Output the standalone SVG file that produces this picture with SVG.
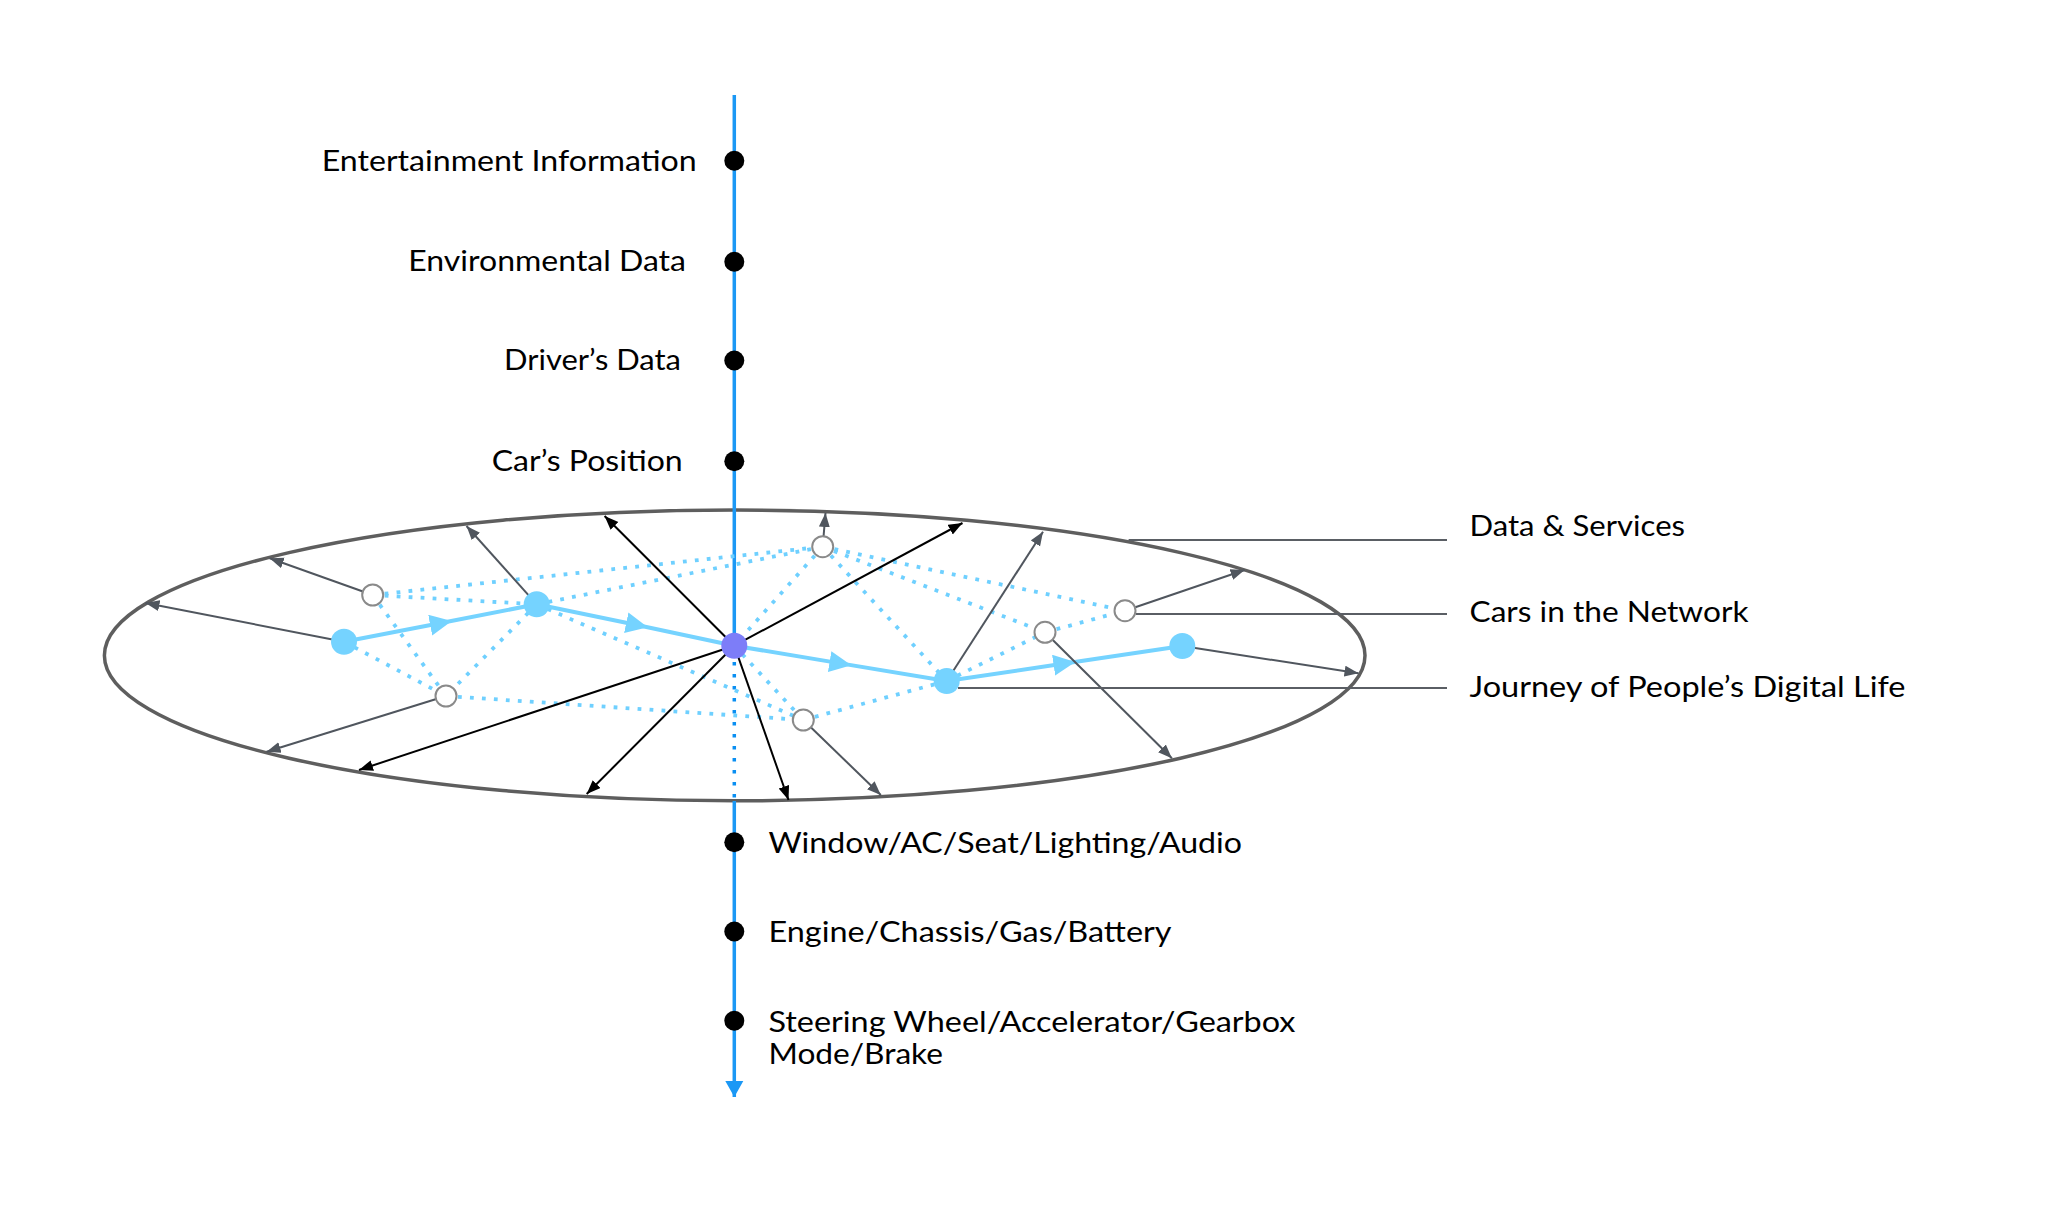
<svg xmlns="http://www.w3.org/2000/svg" width="2048" height="1218" viewBox="0 0 2048 1218">
<defs>
<style>
.lbl{font-family:Lato,"Noto Sans","Liberation Sans",sans-serif;font-size:28px;fill:#000}
.dot{stroke:#6fd0ff;stroke-width:3.8;stroke-dasharray:3.8 8.2;fill:none}
.blk{stroke:#000;stroke-width:2;fill:none;marker-end:url(#ab)}
.gry{stroke:#50565e;stroke-width:2;fill:none;marker-end:url(#ag)}
.lead{stroke:#5a5e64;stroke-width:2;fill:none}
.jr{stroke:#75d3ff;stroke-width:4;fill:none;marker-mid:url(#aj)}
.car{fill:#fff;stroke:#8a8a8a;stroke-width:2}
.jn{fill:#75d3ff}
.bd{fill:#000}
</style>
<marker id="ab" markerUnits="userSpaceOnUse" markerWidth="15" markerHeight="12" refX="14" refY="5.5" orient="auto"><path d="M0,0 L14,5.5 L0,11 z" fill="#000"/></marker>
<marker id="ag" markerUnits="userSpaceOnUse" markerWidth="15" markerHeight="12" refX="14" refY="5.5" orient="auto"><path d="M0,0 L14,5.5 L0,11 z" fill="#50565e"/></marker>
<marker id="aj" markerUnits="userSpaceOnUse" markerWidth="24" markerHeight="22" refX="11" refY="10.5" orient="auto"><path d="M0,0 L22,10.5 L0,21 z" fill="#75d3ff"/></marker>
<marker id="av" markerUnits="userSpaceOnUse" markerWidth="20" markerHeight="18" refX="9" refY="16" orient="0"><path d="M0,0 L18,0 L9,16 z" fill="#1b98f5"/></marker>
</defs>
<rect width="2048" height="1218" fill="#fff"/>

<g id="connectors">
<ellipse cx="734.7" cy="655.4" rx="630.3" ry="145.4" fill="none" stroke="#5e5e5e" stroke-width="3.5"/>
<line x1="734.3" y1="95" x2="734.3" y2="646" stroke="#1b98f5" stroke-width="3.5"/>
<line x1="734.3" y1="662" x2="734.3" y2="800" stroke="#0a8ff2" stroke-width="3.5" stroke-dasharray="3.5 8.5"/>
<line x1="734.3" y1="801" x2="734.3" y2="1097" stroke="#1b98f5" stroke-width="3.5" marker-end="url(#av)"/>

<g id="dotted">
<line class="dot" x1="372.7" y1="595" x2="822.7" y2="546.7"/>
<line class="dot" x1="372.7" y1="595" x2="536.7" y2="604.3"/>
<line class="dot" x1="536.7" y1="604.3" x2="822.7" y2="546.7"/>
<line class="dot" x1="372.7" y1="595" x2="446" y2="696"/>
<line class="dot" x1="344" y1="641.7" x2="446" y2="696"/>
<line class="dot" x1="536.7" y1="604.3" x2="446" y2="696"/>
<line class="dot" x1="536.7" y1="604.3" x2="803.3" y2="720"/>
<line class="dot" x1="446" y1="696" x2="803.3" y2="720"/>
<line class="dot" x1="822.7" y1="546.7" x2="734.3" y2="645.7"/>
<line class="dot" x1="822.7" y1="546.7" x2="946.7" y2="681"/>
<line class="dot" x1="822.7" y1="546.7" x2="1125" y2="610.7"/>
<line class="dot" x1="822.7" y1="546.7" x2="1045" y2="632.3"/>
<line class="dot" x1="946.7" y1="681" x2="1045" y2="632.3"/>
<line class="dot" x1="1045" y1="632.3" x2="1125" y2="610.7"/>
<line class="dot" x1="734.3" y1="645.7" x2="803.3" y2="720"/>
<line class="dot" x1="803.3" y1="720" x2="946.7" y2="681"/>
</g>

<g id="journey">
<path class="jr" d="M344,641.7 L441,623 L536.7,604.3"/>
<path class="jr" d="M536.7,604.3 L637,625 L734.3,645.7"/>
<path class="jr" d="M734.3,645.7 L840.5,663.4 L946.7,681"/>
<path class="jr" d="M946.7,681 L1064.5,663.5 L1182.3,646"/>
</g>

<g id="black-arrows">
<line class="blk" x1="734.3" y1="645.7" x2="604.6" y2="516"/>
<line class="blk" x1="734.3" y1="645.7" x2="962.5" y2="523"/>
<line class="blk" x1="734.3" y1="645.7" x2="359" y2="770"/>
<line class="blk" x1="734.3" y1="645.7" x2="586.7" y2="794"/>
<line class="blk" x1="734.3" y1="645.7" x2="788.5" y2="800"/>
</g>

<g id="gray-arrows">
<line class="gry" x1="344" y1="641.7" x2="145.5" y2="603"/>
<line class="gry" x1="372.7" y1="595" x2="269.7" y2="558.3"/>
<line class="gry" x1="536.7" y1="604.3" x2="466.5" y2="526"/>
<line class="gry" x1="446" y1="696" x2="266.6" y2="751.7"/>
<line class="gry" x1="822.7" y1="546.7" x2="825.5" y2="513"/>
<line class="gry" x1="946.7" y1="681" x2="1043" y2="531.7"/>
<line class="gry" x1="1125" y1="610.7" x2="1244.6" y2="570"/>
<line class="gry" x1="1182.3" y1="646" x2="1358.5" y2="673.3"/>
<line class="gry" x1="1045" y1="632.3" x2="1171.9" y2="758.3"/>
<line class="gry" x1="803.3" y1="720" x2="880.8" y2="795"/>
</g>

<g id="leaders">
<line class="lead" x1="1128.6" y1="540" x2="1447" y2="540"/>
<line class="lead" x1="1136" y1="614" x2="1447" y2="614"/>
<line class="lead" x1="958" y1="688" x2="1447" y2="688"/>
</g>
</g>

<g id="node-center"><circle cx="734.3" cy="645.7" r="13" fill="#7d7df8"/></g>
<g id="node-A"><circle class="jn" cx="344" cy="641.7" r="13"/></g>
<g id="node-B"><circle class="jn" cx="536.7" cy="604.3" r="13"/></g>
<g id="node-C"><circle class="jn" cx="946.7" cy="681" r="13"/></g>
<g id="node-D"><circle class="jn" cx="1182.3" cy="646" r="13"/></g>
<g id="car-E"><circle class="car" cx="372.7" cy="595" r="10.5"/></g>
<g id="car-F"><circle class="car" cx="446" cy="696" r="10.5"/></g>
<g id="car-G"><circle class="car" cx="822.7" cy="546.7" r="10.5"/></g>
<g id="car-H"><circle class="car" cx="1125" cy="610.7" r="10.5"/></g>
<g id="car-I"><circle class="car" cx="1045" cy="632.3" r="10.5"/></g>
<g id="car-J"><circle class="car" cx="803.3" cy="720" r="10.5"/></g>

<g id="item-entertainment"><circle class="bd" cx="734.3" cy="160.7" r="10"/><text class="lbl" x="321.7" y="170.5" textLength="375" lengthAdjust="spacingAndGlyphs">Entertainment Information</text></g>
<g id="item-environmental"><circle class="bd" cx="734.3" cy="261.7" r="10"/><text class="lbl" x="408.3" y="271" textLength="277.7" lengthAdjust="spacingAndGlyphs">Environmental Data</text></g>
<g id="item-driver"><circle class="bd" cx="734.3" cy="360.5" r="10"/><text class="lbl" x="504" y="369.5" textLength="177" lengthAdjust="spacingAndGlyphs">Driver’s Data</text></g>
<g id="item-position"><circle class="bd" cx="734.3" cy="461.2" r="10"/><text class="lbl" x="491.7" y="470.5" textLength="191" lengthAdjust="spacingAndGlyphs">Car’s Position</text></g>

<g id="item-window"><circle class="bd" cx="734.3" cy="842.3" r="10"/><text class="lbl" x="768.5" y="852.5" textLength="473.5" lengthAdjust="spacingAndGlyphs">Window/AC/Seat/Lighting/Audio</text></g>
<g id="item-engine"><circle class="bd" cx="734.3" cy="931.5" r="10"/><text class="lbl" x="768.5" y="941.5" textLength="403" lengthAdjust="spacingAndGlyphs">Engine/Chassis/Gas/Battery</text></g>
<g id="item-steering"><circle class="bd" cx="734.3" cy="1020.7" r="10"/><text class="lbl" x="768.5" y="1031.5" textLength="527" lengthAdjust="spacingAndGlyphs">Steering Wheel/Accelerator/Gearbox</text><text class="lbl" x="768.5" y="1064" textLength="174.5" lengthAdjust="spacingAndGlyphs">Mode/Brake</text></g>

<g id="label-data"><text class="lbl" x="1469.5" y="536" textLength="215.5" lengthAdjust="spacingAndGlyphs">Data &amp; Services</text></g>
<g id="label-cars"><text class="lbl" x="1469.5" y="621.5" textLength="279" lengthAdjust="spacingAndGlyphs">Cars in the Network</text></g>
<g id="label-journey"><text class="lbl" x="1469.5" y="697" textLength="436" lengthAdjust="spacingAndGlyphs">Journey of People’s Digital Life</text></g>
</svg>
